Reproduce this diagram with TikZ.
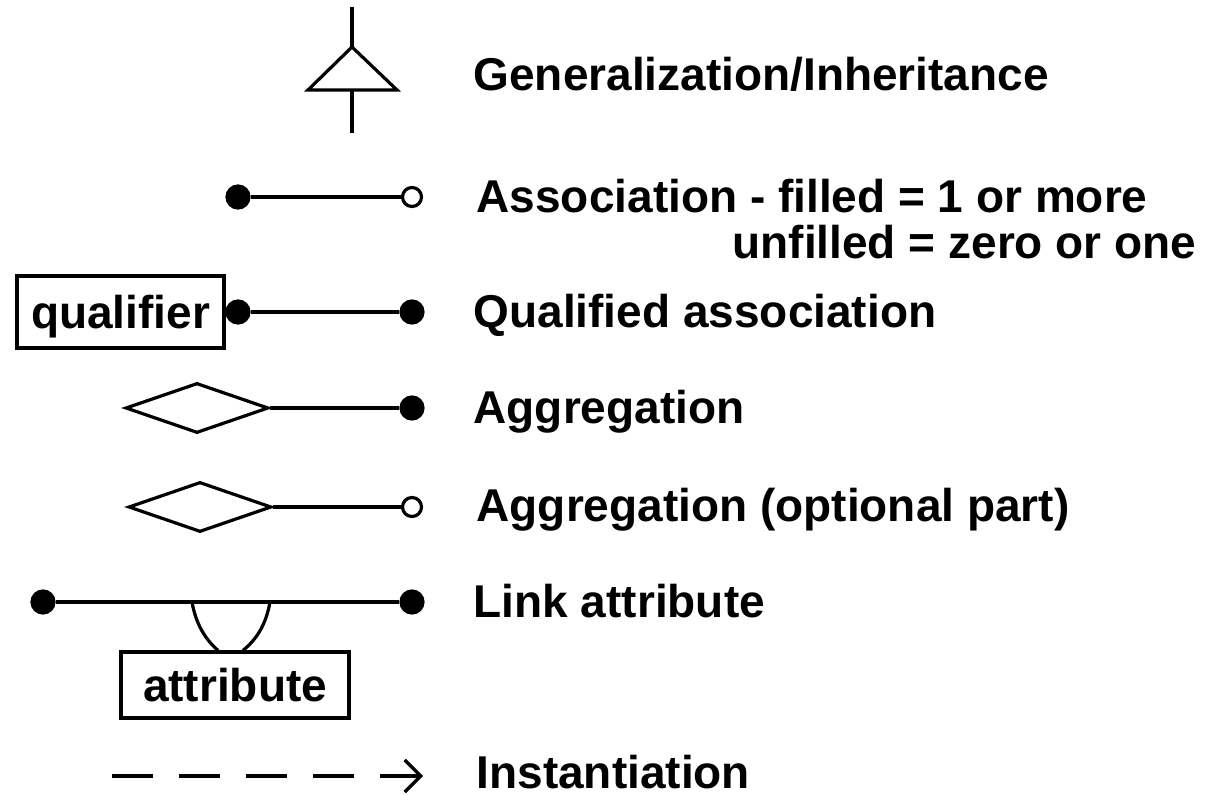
\documentclass[tikz,border=0pt]{standalone}
\usepackage{fontspec}
\setmainfont{Liberation Sans}
\usetikzlibrary{arrows.meta,shapes.geometric}

\begin{document}
\begin{tikzpicture}[x=0.5pt, y=-0.5pt, line width=1.6pt,
    fulldot/.style={circle, fill, draw, inner sep=0pt, minimum size=11pt},
    opendot/.style={circle, draw, fill=white, inner sep=0pt, minimum size=9.5pt},
    desc/.style={anchor=base west, inner sep=0pt, font=\fontsize{23}{27}\selectfont\bfseries},
    box/.style={draw, rectangle, inner sep=0pt, font=\fontsize{23}{27}\selectfont\bfseries},
    aggr/.style={diamond, draw, inner sep=0pt, minimum width=71.5pt, minimum height=25pt}]
        \useasboundingbox (0,0) rectangle (1220,795);

        % generalizace
        \coordinate (gtop) at (352,7);
        \coordinate (gapex) at (352,47);
        \coordinate (gleft) at (308,90);
        \coordinate (gright) at (397,90);
        \coordinate (gbase) at (352,90);
        \coordinate (gbot) at (352,133);
        \draw (gtop) -- (gapex);
        \draw[line join=miter] (gapex) -- (gright) -- (gleft) -- cycle;
        \draw (gbase) -- (gbot);
        \node[desc] (tgen) at (472,91) {Generalization/Inheritance};

        % asociace
        \node[fulldot] (a1) at (238,197) {};
        \node[opendot] (a2) at (412,197) {};
        \draw (a1) -- (a2);
        \node[desc] (tasoc) at (475,213) {Association - filled = 1 or more};
        \node[desc, anchor=base east] (tasoc2) at (1198,259) {unfilled = zero or one};

        % kvalifikovana asociace
        \node[box, text depth=0pt, minimum width=103.5pt, minimum height=36pt] (qual) at (120.5,312) {qualifier};
        \node[fulldot] (q1) at (238,312) {};
        \node[fulldot] (q2) at (412,312) {};
        \draw (q1) -- (q2);
        \node[desc] (tqual) at (472,328) {Qualified association};

        % agregace
        \node[aggr] (ag1) at (197,408) {};
        \node[fulldot] (ag1e) at (412,408) {};
        \draw (ag1.east) -- (ag1e);
        \node[desc] (tag1) at (472,424) {Aggregation};

        \node[aggr] (ag2) at (200,507) {};
        \node[opendot] (ag2e) at (412,507) {};
        \draw (ag2.east) -- (ag2e);
        \node[desc] (tag2) at (475,522) {Aggregation (optional part)};

        % atribut vazby
        \node[fulldot] (l1) at (43,602) {};
        \node[fulldot] (l2) at (412,602) {};
        \draw (l1) -- (l2);
        \node[box, minimum width=114pt, minimum height=33pt] (attr) at (235,685) {attribute};
        \coordinate (la) at (192,602);
        \coordinate (lb) at (270,602);
        \draw (la) .. controls (196,625) and (206,640) .. ([xshift=-8.5pt]attr.north);
        \draw (lb) .. controls (266,625) and (256,640) .. ([xshift=4pt]attr.north);
        \node[desc] (tlink) at (472,618) {Link attribute};

        % instanciace
        \coordinate (i1) at (112,776);
        \coordinate (i2) at (423,776);
        \draw[dash pattern=on 20.5pt off 13pt, -{Straight Barb[length=8pt, width=16pt]}] (i1) -- (i2);
        \node[desc] (tinst) at (475,788) {Instantiation};

\end{tikzpicture}
\end{document}
